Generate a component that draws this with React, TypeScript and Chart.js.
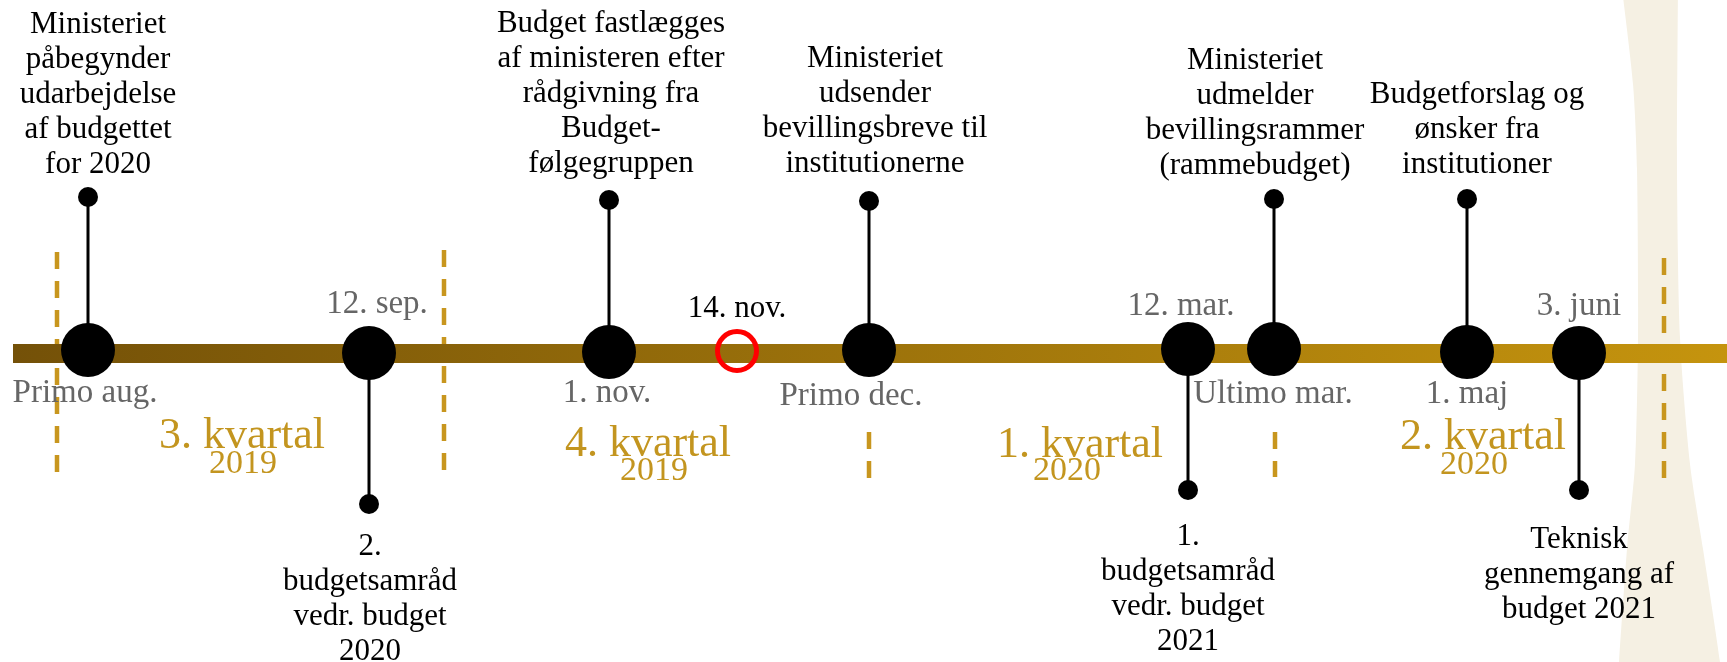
import React, { useEffect, useRef } from 'react';
import { Chart, registerables } from 'chart.js';

Chart.register(...registerables);

const FONT = '"Liberation Serif", Cambria, serif';

// Timeline axis: x = position along the timeline, y = offset above (+) / below (-) the bar
const timelineStart = 13;
const timelineEnd = 1727;
const timelineLevel = -1;

// Milestones on the timeline
const eventDates = ['Primo aug.', '12. sep.', '1. nov.', 'Primo dec.', '12. mar.', 'Ultimo mar.', '1. maj', '3. juni'];
const eventX = [88, 369, 609, 869, 1188, 1274, 1467, 1579];
const eventY = [2.5, -0.5, 0.5, 2.5, 3.5, 3.5, 0.5, -0.5];
const dateLabelX = [85, 377, 607, 851, 1181, 1273, 1467, 1579];
const dateLabelY = [-49.5, 39.5, -49.5, -52.5, 37.5, -50.5, -50.5, 37.5];
const stemEndY = [155.5, -151.5, 152.5, 151.5, -137.5, 153.5, 153.5, -137.5];

// Descriptions attached to the stems
const descriptions = [
  ['Ministeriet', 'påbegynder', 'udarbejdelse', 'af budgettet', 'for 2020'],
  ['2.', 'budgetsamråd', 'vedr. budget', '2020'],
  ['Budget fastlægges', 'af ministeren efter', 'rådgivning fra', 'Budget-', 'følgegruppen'],
  ['Ministeriet', 'udsender', 'bevillingsbreve til', 'institutionerne'],
  ['1.', 'budgetsamråd', 'vedr. budget', '2021'],
  ['Ministeriet', 'udmelder', 'bevillingsrammer', '(rammebudget)'],
  ['Budgetforslag og', 'ønsker fra', 'institutioner'],
  ['Teknisk', 'gennemgang af', 'budget 2021'],
];
const descX = [98, 370, 611, 875, 1188, 1255, 1477, 1579];
const descFirstY = [319.5, -202.5, 320.5, 285.5, -192.5, 283.5, 249.5, -195.5];
const descLineStep = 35;

// Today marker
const todayLabel = '14. nov.';
const todayX = 737;
const todayY = 1.5;
const todayLabelY = 35.5;

// Quarters
const quarterLabels = ['3. kvartal', '4. kvartal', '1. kvartal', '2. kvartal'];
const quarterYears = ['2019', '2019', '2020', '2020'];
const quarterX = [242, 648, 1080, 1483];
const quarterY = [-95.5, -103.5, -104.5, -96.5];
const yearX = [243, 654, 1067, 1474];
const yearY = [-120.5, -127.5, -127.5, -121.5];

// Quarter dividers (dashed)
const dividerX = [57, 444, 869, 1275, 1664];
const dividerTop = [100.5, 102.5, -79.5, -79.5, 94.5];
const dividerBottom = [-119.5, -117.5, -125.5, -124.5, -125.5];

// Background decoration outline (left edge top->bottom, right edge bottom->top)
const decoX = [1621, 1633, 1637, 1638, 1635, 1627, 1619, 1617, 1722, 1720, 1703, 1690, 1680, 1677, 1678];
const decoY = [372.5, 268.5, 183.5, 14.5, -111.5, -196.5, -309.5, -337.5, -337.5, -309.5, -196.5, -111.5, 14.5, 183.5, 372.5];

const GOLD = '#c3951f';
const GRAY = '#666666';

const textPlugin = {
  id: 'timelineText',
  afterDraw(chart: any) {
    const { ctx, scales } = chart;
    const px = (v: number) => scales.x.getPixelForValue(v);
    const py = (v: number) => scales.y.getPixelForValue(v);
    ctx.save();
    ctx.textAlign = 'center';
    ctx.textBaseline = 'alphabetic';

    ctx.fillStyle = '#000';
    ctx.font = `31px ${FONT}`;
    descriptions.forEach((lines, i) => {
      lines.forEach((line, j) => {
        ctx.fillText(line, px(descX[i]), py(descFirstY[i] - j * descLineStep));
      });
    });

    ctx.fillStyle = GRAY;
    ctx.font = `33px ${FONT}`;
    eventDates.forEach((d, i) => {
      ctx.fillText(d, px(dateLabelX[i]), py(dateLabelY[i]));
    });

    ctx.fillStyle = '#000';
    ctx.font = `31px ${FONT}`;
    ctx.fillText(todayLabel, px(todayX), py(todayLabelY));

    ctx.fillStyle = GOLD;
    ctx.font = `44px ${FONT}`;
    quarterLabels.forEach((q, i) => {
      ctx.fillText(q, px(quarterX[i]), py(quarterY[i]));
    });
    ctx.font = `34px ${FONT}`;
    quarterYears.forEach((y, i) => {
      ctx.fillText(y, px(yearX[i]), py(yearY[i]));
    });
    ctx.restore();
  },
};

function buildConfig(): any {
  const stemData: any[] = [];
  eventX.forEach((x, i) => {
    stemData.push({ x, y: eventY[i] });
    stemData.push({ x, y: stemEndY[i] });
    stemData.push({ x, y: null });
  });

  const dividerSets = dividerX.map((x, i) => ({
    type: 'line',
    data: [
      { x, y: dividerTop[i] },
      { x, y: dividerBottom[i] },
    ],
    showLine: true,
    borderColor: '#c8961e',
    borderWidth: 4.5,
    borderDash: [17, 12],
    pointRadius: 0,
    fill: false,
    order: 8,
  }));

  return {
    type: 'scatter',
    data: {
      datasets: [
        {
          type: 'line',
          data: decoX.map((x, i) => ({ x, y: decoY[i] })),
          showLine: true,
          borderWidth: 0,
          borderColor: 'rgba(0,0,0,0)',
          backgroundColor: '#f5f0e3',
          fill: 'shape',
          tension: 0.25,
          pointRadius: 0,
          order: 10,
        },
        ...dividerSets,
        {
          type: 'line',
          data: [
            { x: timelineStart, y: timelineLevel },
            { x: timelineEnd, y: timelineLevel },
          ],
          showLine: true,
          borderWidth: 19,
          borderCapStyle: 'butt',
          borderColor: (c: any) => {
            const chart = c.chart;
            if (!chart.chartArea) return '#9a740c';
            const x = chart.scales.x;
            const g = chart.ctx.createLinearGradient(
              x.getPixelForValue(timelineStart), 0, x.getPixelForValue(timelineEnd), 0);
            g.addColorStop(0, '#745108');
            g.addColorStop(1, '#c5940e');
            return g;
          },
          pointRadius: 0,
          fill: false,
          order: 6,
        },
        {
          type: 'line',
          data: stemData,
          showLine: true,
          spanGaps: false,
          borderColor: '#000',
          borderWidth: 3,
          pointRadius: 0,
          fill: false,
          order: 4,
        },
        {
          data: eventX.map((x, i) => ({ x, y: stemEndY[i] })),
          pointRadius: 10,
          pointBackgroundColor: '#000',
          pointBorderWidth: 0,
          order: 3,
        },
        {
          data: eventX.map((x, i) => ({ x, y: eventY[i] })),
          pointRadius: 27,
          pointBackgroundColor: '#000',
          pointBorderWidth: 0,
          order: 2,
        },
        {
          data: [{ x: todayX, y: todayY }],
          pointRadius: 19.5,
          pointBackgroundColor: 'rgba(0,0,0,0)',
          pointBorderColor: '#ff0000',
          pointBorderWidth: 5,
          order: 1,
        },
      ],
    },
    options: {
      animation: false,
      responsive: false,
      maintainAspectRatio: false,
      events: [],
      layout: { padding: 0, autoPadding: false },
      plugins: {
        legend: { display: false },
        tooltip: { enabled: false },
      },
      scales: {
        x: { type: 'linear', display: false, min: 0, max: 1727 },
        y: { type: 'linear', display: false, min: -309.5, max: 352.5 },
      },
    },
    plugins: [textPlugin],
  };
}

export default function App() {
  const ref = useRef<HTMLCanvasElement>(null);
  useEffect(() => {
    document.body.style.margin = '0';
    const chart = new Chart(ref.current as HTMLCanvasElement, buildConfig());
    return () => chart.destroy();
  }, []);
  return (
    <div style={{ position: 'absolute', left: 0, top: 0, width: 1727, height: 662, background: '#fff' }}>
      <canvas ref={ref} width={1727} height={662} style={{ display: 'block' }} />
    </div>
  );
}
